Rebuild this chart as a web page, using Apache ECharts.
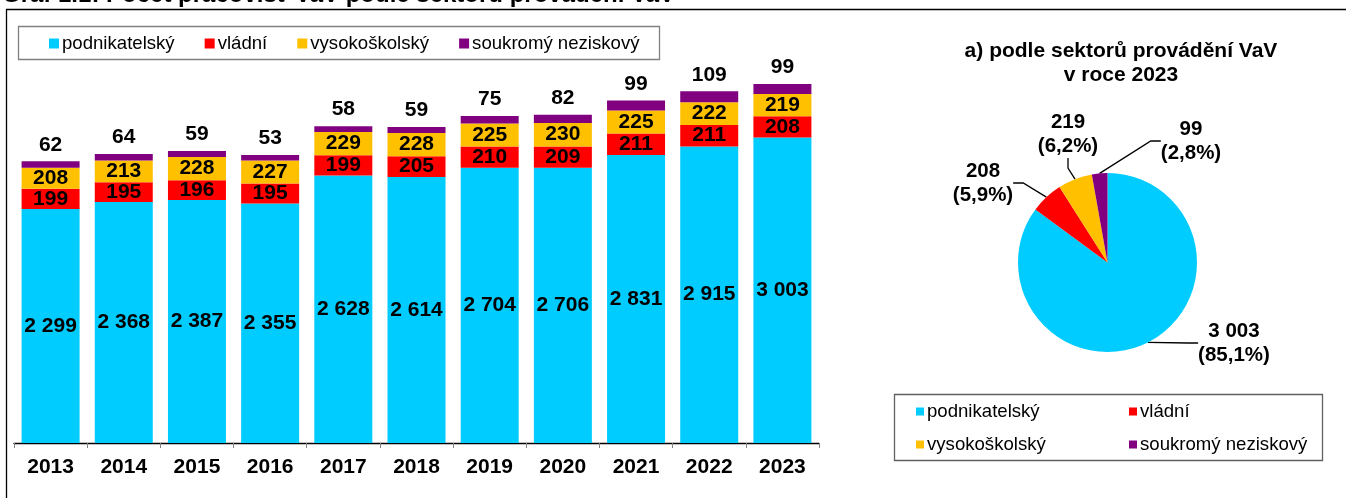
<!DOCTYPE html>
<html>
<head>
<meta charset="utf-8">
<script src="https://cdn.jsdelivr.net/npm/echarts@6/dist/echarts.min.js"></script>
<style>
html,body{margin:0;padding:0;background:#fff;}
#c{width:1346px;height:498px;}
</style>
</head>
<body>
<div id="c"></div>
<script>
const years = ['2013','2014','2015','2016','2017','2018','2019','2020','2021','2022','2023'];
const sectorNames = ['podnikatelský','vládní','vysokoškolský','soukromý neziskový'];
const podnikatelsky = [2299,2368,2387,2355,2628,2614,2704,2706,2831,2915,3003];
const vladni = [199,195,196,195,199,205,210,209,211,211,208];
const vysokoskolsky = [208,213,228,227,229,228,225,230,225,222,219];
const soukromy = [62,64,59,53,58,59,75,82,99,109,99];
const pie2023 = [3003,208,219,99];
const colors = ['#00CCFF','#FF0000','#FFC000','#800080'];

const FONT = '"Liberation Sans", Arial, sans-serif';
const fmt = v => String(v).replace(/\B(?=(\d{3})+(?!\d))/g, ' ');
const pieLabelPos = [[1234,343],[983,183],[1068,134],[1191,141]];

const chart = echarts.init(document.getElementById('c'), null, {renderer:'canvas'});

const inLabel = {show:true, position:'inside', color:'#000', fontFamily:FONT, fontWeight:'bold', fontSize:21, formatter:p=>fmt(p.value)};
const seriesData = [podnikatelsky, vladni, vysokoskolsky, soukromy];
const barSeries = seriesData.map((d,i)=>({
  name: sectorNames[i], type:'bar', stack:'s', data:d, barWidth:58,
  itemStyle:{color:colors[i]},
  label: i<3 ? inLabel : {show:true, position:'top', distance:6, color:'#000', fontFamily:FONT, fontWeight:'bold', fontSize:21, formatter:p=>fmt(p.value)},
  emphasis:{disabled:true}, animation:false
}));

const legText = {fontFamily:FONT, fontSize:18.6, color:'#000', padding:[0,0,0,-2]};
const option = {
  animation:false,
  textStyle:{fontFamily:FONT},
  grid:{left:14, right:527, top:36, bottom:55},
  xAxis:{type:'category', data:years,
    axisLine:{lineStyle:{color:'#000', width:1.3}},
    axisTick:{show:true, alignWithLabel:false, length:5, lineStyle:{color:'#808080'}},
    axisLabel:{color:'#000', fontFamily:FONT, fontWeight:'bold', fontSize:21, margin:14}},
  yAxis:{type:'value', min:0, max:4000, show:false, splitLine:{show:false}},
  legend:[
    {data:sectorNames, left:49, top:34, itemWidth:10, itemHeight:10, icon:'rect', itemGap:30, padding:0,
      textStyle:legText, selectedMode:false},
    {data:[sectorNames[0], sectorNames[2]], orient:'vertical', left:916, top:402, itemWidth:8, itemHeight:8, icon:'rect', itemGap:14, padding:0,
      textStyle:legText, selectedMode:false},
    {data:[sectorNames[1], sectorNames[3]], orient:'vertical', left:1129, top:402, itemWidth:8, itemHeight:8, icon:'rect', itemGap:14, padding:0,
      textStyle:legText, selectedMode:false}
  ],
  series: barSeries.concat([{
    type:'pie', center:[1107.5,262.5], radius:89.5, startAngle:90, clockwise:true,
    percentPrecision:1, animation:false,
    data: pie2023.map((v,i)=>({name:sectorNames[i], value:v, itemStyle:{color:colors[i]}})),
    label:{show:true, color:'#000', fontFamily:FONT, fontWeight:'bold', fontSize:20.5, lineHeight:24, align:'center',
      formatter:p=>fmt(p.value)+'\n('+String(p.percent.toFixed(1)).replace('.',',')+'%)'},
    labelLine:{show:true, length:10, length2:10, lineStyle:{color:'#000', width:1.3}},
    labelLayout: params => {
      const p = pieLabelPos[params.dataIndex];
      return {x:p[0], y:p[1], align:'center', verticalAlign:'middle'};
    },
    emphasis:{disabled:true}
  }]),
  graphic:[
    {type:'text', left:2, top:-17, style:{text:'Graf 1.1: Počet pracovišť VaV podle sektorů provádění VaV', font:'bold 24px '+FONT, fill:'#000'}},
    {type:'line', shape:{x1:6, y1:9.5, x2:1346, y2:9.5}, style:{stroke:'#000', lineWidth:1.3}},
    {type:'line', shape:{x1:6.5, y1:9.5, x2:6.5, y2:498}, style:{stroke:'#000', lineWidth:1.3}},
    {type:'rect', shape:{x:18.5, y:26.5, width:641, height:33}, style:{fill:'none', stroke:'#808080', lineWidth:1.3}},
    {type:'rect', shape:{x:894.5, y:394.5, width:428, height:66}, style:{fill:'none', stroke:'#606060', lineWidth:1.3}},
    {type:'text', x:1121, y:63, style:{text:'a) podle sektorů provádění VaV\nv roce 2023', font:'bold 21px '+FONT, fill:'#000', align:'center', verticalAlign:'middle', lineHeight:24}}
  ]
};
chart.setOption(option);
</script>
</body>
</html>
